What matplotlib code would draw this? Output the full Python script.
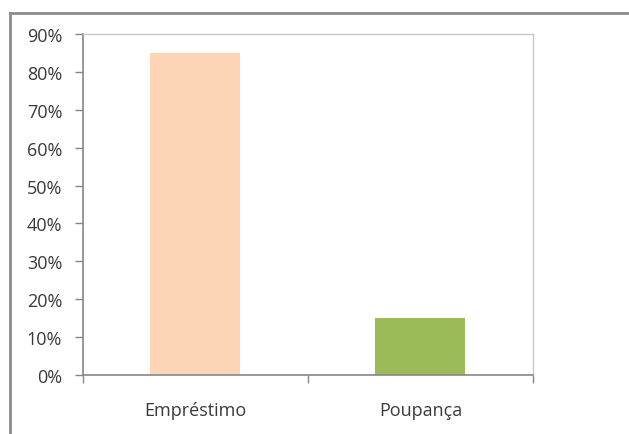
import matplotlib
matplotlib.use("Agg")
import matplotlib.pyplot as plt
from matplotlib.lines import Line2D
from matplotlib.ticker import FuncFormatter, MultipleLocator

categories = ["Empréstimo", "Poupança"]
values = [85, 15]
bar_colors = ["#FBD5B5", "#9BBB59"]

W, H, DPI = 629, 435, 100
fig = plt.figure(figsize=(W / DPI, H / DPI), dpi=DPI)
plt.rcParams["font.family"] = ["Open Sans", "DejaVu Sans"]

# plot area in pixel coordinates
left, right, top, bottom = 83, 533, 35, 376
ax = fig.add_axes([left / W, 1 - bottom / H, (right - left) / W, (bottom - top) / H])

x = list(range(len(categories)))
ax.bar(x, values, width=0.4, color=bar_colors, zorder=2)

ax.set_xlim(-0.5, len(categories) - 0.5)
ax.set_ylim(0, 90)
ax.yaxis.set_major_locator(MultipleLocator(10))
ax.yaxis.set_major_formatter(FuncFormatter(lambda v, _: f"{v:.0f}%"))

label_size = 13
text_color = "#3A3A3A"

# category labels centred, ticks on category boundaries
ax.set_xticks(x)
ax.set_xticklabels(categories)
ax.tick_params(axis="x", which="major", length=0, pad=19, labelsize=label_size, labelcolor=text_color)
ax.set_xticks([-0.5 + i for i in range(len(categories) + 1)], minor=True)
ax.tick_params(axis="x", which="minor", length=6, width=1, color="#868686", direction="out")
ax.tick_params(axis="y", length=6, width=1, color="#868686", direction="out", pad=9,
               labelsize=label_size, labelcolor=text_color)

for side in ("left", "bottom"):
    ax.spines[side].set_color("#868686")
    ax.spines[side].set_linewidth(1.2)
for side in ("top", "right"):
    ax.spines[side].set_color("#C8C8C8")
    ax.spines[side].set_linewidth(1.0)

# outer chart border (top and left edges)
bx, by = 9.5, 13.5
fig.add_artist(Line2D([bx / W, bx / W], [0, 1 - by / H], transform=fig.transFigure,
                      color="#8C8C8C", linewidth=2))
fig.add_artist(Line2D([bx / W, 1], [1 - by / H, 1 - by / H], transform=fig.transFigure,
                      color="#8C8C8C", linewidth=2))

fig.savefig("out.png", dpi=DPI)
